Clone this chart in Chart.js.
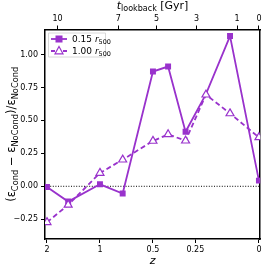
<!DOCTYPE html>
<html><head><meta charset="utf-8">
<script src="https://cdn.jsdelivr.net/npm/chart.js@4/dist/chart.umd.min.js"></script>
<style>html,body{margin:0;padding:0;background:#fff}#wrap{width:266px;height:266px}</style>
</head><body><div id="wrap"><canvas id="c" width="266" height="266"></canvas></div>
<script>
// ---- data ----
const redshifts = [2, 1.5, 1, 0.75, 0.5, 0.4, 0.3, 0.2, 0.1, 0];
const inner015 = [-0.005, -0.116, 0.015, -0.055, 0.871, 0.909, 0.414, 0.70, 1.14, 0.043];
const outer100 = [-0.273, -0.141, 0.101, 0.202, 0.344, 0.394, 0.346, 0.695, 0.553, 0.371];
const bottomTickZ = [2, 1, 0.5, 0.25, 0];
const bottomTickLabels = ['2', '1', '0.5', '0.25', '0'];
const topTickScaleFactor = [0.3667, 0.5576, 0.6782, 0.8037, 0.9315, 1.0];
const topTickLabels = ['10', '7', '5', '3', '1', '0'];
const yTicks = [-0.25, 0, 0.25, 0.5, 0.75, 1.0];
const seriesNames = ['0.15', '1.00'];

const PURPLE = '#9932CC';
const XMIN = 0.3271, XMAX = 1.004;
const toA = z => 1 / (1 + z);
const pts = vals => vals.map((v, i) => ({x: toA(redshifts[i]), y: v}));
const FONT = 'DejaVu Sans';

const fixedSize = (w, h) => (s) => { if (w !== null) s.width = w; if (h !== null) s.height = h; };

const textPlugin = {
  id: 'texts',
  afterDraw(chart) {
    const ctx = chart.ctx;
    const ca = chart.chartArea;
    ctx.save();
    ctx.fillStyle = '#000';
    ctx.textBaseline = 'alphabetic';
    function seq(parts) {
      let w = 0;
      parts.forEach(p => { ctx.font = p[1]; w += ctx.measureText(p[0]).width; });
      return w;
    }
    function drawSeq(parts, x0, y0) {
      let x = x0;
      parts.forEach(p => { ctx.font = p[1]; ctx.fillText(p[0], x, y0 + p[2]); x += ctx.measureText(p[0]).width; });
    }
    const M = '11.5px "' + FONT + '"', S = '8.3px "' + FONT + '"';
    // y title
    const yParts = [['(ε', M, 0], ['Cond', S, 2.6], [' − ε', M, 0], ['NoCond', S, 2.6], [')/ε', M, 0], ['NoCond', S, 2.6]];
    const yw = seq(yParts);
    ctx.save();
    ctx.translate(15, (ca.top + ca.bottom) / 2);
    ctx.rotate(-Math.PI / 2);
    drawSeq(yParts, -yw / 2, 0);
    ctx.restore();
    // top title
    const T = '11px "' + FONT + '"', TS = '8px "' + FONT + '"';
    const tParts = [['t', 'italic ' + T, 0], ['lookback', TS, 2.3], [' [Gyr]', T, 0]];
    const tw = seq(tParts);
    drawSeq(tParts, (ca.left + ca.right) / 2 - tw / 2, 9);
    // bottom title
    const bParts = [['z', 'italic ' + T, 0]];
    const bw = seq(bParts);
    drawSeq(bParts, (ca.left + ca.right) / 2 - bw / 2, 264);
    // legend
    const lx = ca.left + 3, ly = ca.top + 3;
    ctx.fillStyle = '#fff';
    ctx.strokeStyle = '#d8d8d8';
    ctx.lineWidth = 1;
    ctx.beginPath();
    ctx.rect(lx + 0.5, ly + 0.5, 57, 24);
    ctx.fill(); ctx.stroke();
    const rows = [ly + 6.5, ly + 18.5];
    ctx.strokeStyle = PURPLE;
    ctx.lineWidth = 1.8;
    ctx.setLineDash([]);
    ctx.beginPath(); ctx.moveTo(lx + 3, rows[0]); ctx.lineTo(lx + 19, rows[0]); ctx.stroke();
    ctx.fillStyle = PURPLE; ctx.fillRect(lx + 11 - 3.5, rows[0] - 3.5, 7, 7);
    ctx.setLineDash([4, 2]);
    ctx.beginPath(); ctx.moveTo(lx + 3, rows[1]); ctx.lineTo(lx + 19, rows[1]); ctx.stroke();
    ctx.setLineDash([]);
    ctx.fillStyle = '#fff';
    ctx.lineWidth = 1.2;
    ctx.beginPath();
    ctx.moveTo(lx + 11, rows[1] - 4.5); ctx.lineTo(lx + 15, rows[1] + 2.8); ctx.lineTo(lx + 7, rows[1] + 2.8); ctx.closePath();
    ctx.fill(); ctx.stroke();
    ctx.fillStyle = '#000';
    const LM = '9px "' + FONT + '"', LS = '6.5px "' + FONT + '"';
    seriesNames.forEach((n, i) => {
      drawSeq([[n + ' ', LM, 0], ['r', 'italic ' + LM, 0], ['500', LS, 2]], lx + 24, rows[i] + 3.3);
    });
    ctx.restore();
  }
};

new Chart(document.getElementById('c'), {
  type: 'line',
  data: {
    datasets: [
      {
        label: 'zero', data: [{x: XMIN, y: 0}, {x: XMAX, y: 0}],
        borderColor: '#000', borderWidth: 1, borderDash: [1, 1.6], pointRadius: 0, order: 3
      },
      {
        label: seriesNames[0], data: pts(inner015),
        borderColor: PURPLE, backgroundColor: PURPLE, borderWidth: 1.8,
        pointStyle: 'rect', pointRadius: [4.2, 4.2, 4.2, 4.2, 4.2, 4.2, 4.2, 0, 4.2, 4.2],
        pointBorderWidth: 0, order: 2
      },
      {
        label: seriesNames[1], data: pts(outer100),
        borderColor: PURPLE, backgroundColor: '#fff', borderWidth: 1.8, borderDash: [5, 3],
        pointStyle: 'triangle', pointRadius: 4.6, pointBorderWidth: 1.2, order: 1
      }
    ]
  },
  options: {
    responsive: false, animation: false, devicePixelRatio: 1,
    layout: {padding: 0},
    plugins: {legend: {display: false}, tooltip: {enabled: false}},
    scales: {
      x: {
        type: 'linear', position: 'bottom', min: XMIN, max: XMAX,
        afterFit: fixedSize(null, 27),
        afterBuildTicks: s => { s.ticks = bottomTickZ.map(z => ({value: toA(z)})); },
        ticks: {
          autoSkip: false, maxRotation: 0, padding: 2, color: '#000',
          font: {family: FONT, size: 8},
          callback: (v, i) => bottomTickLabels[i]
        },
        grid: {drawOnChartArea: false, tickLength: 4, tickColor: '#000', tickWidth: 1},
        border: {color: '#000', width: 1.5}
      },
      x2: {
        type: 'linear', position: 'top', min: XMIN, max: XMAX,
        afterFit: fixedSize(null, 29.5),
        afterBuildTicks: s => { s.ticks = topTickScaleFactor.map(a => ({value: a})); },
        ticks: {
          autoSkip: false, maxRotation: 0, padding: 2, color: '#000',
          font: {family: FONT, size: 8},
          callback: (v, i) => topTickLabels[i]
        },
        grid: {drawOnChartArea: false, tickLength: 4, tickColor: '#000', tickWidth: 1},
        border: {color: '#000', width: 1.5}
      },
      y: {
        type: 'linear', position: 'left', min: -0.40, max: 1.19,
        afterFit: fixedSize(45, null),
        afterBuildTicks: s => { s.ticks = yTicks.map(v => ({value: v})); },
        ticks: {
          autoSkip: false, padding: 3, color: '#000',
          font: {family: FONT, size: 8},
          callback: v => (v < 0 ? '−' : '') + Math.abs(v).toFixed(2)
        },
        grid: {drawOnChartArea: false, tickLength: 4, tickColor: '#000', tickWidth: 1},
        border: {color: '#000', width: 1.5}
      },
      y2: {
        type: 'linear', position: 'right', min: -0.40, max: 1.19,
        afterFit: fixedSize(4, null),
        ticks: {display: false},
        grid: {display: false, drawTicks: false},
        border: {color: '#000', width: 1.5}
      }
    }
  },
  plugins: [textPlugin]
});
</script>
</body></html>
